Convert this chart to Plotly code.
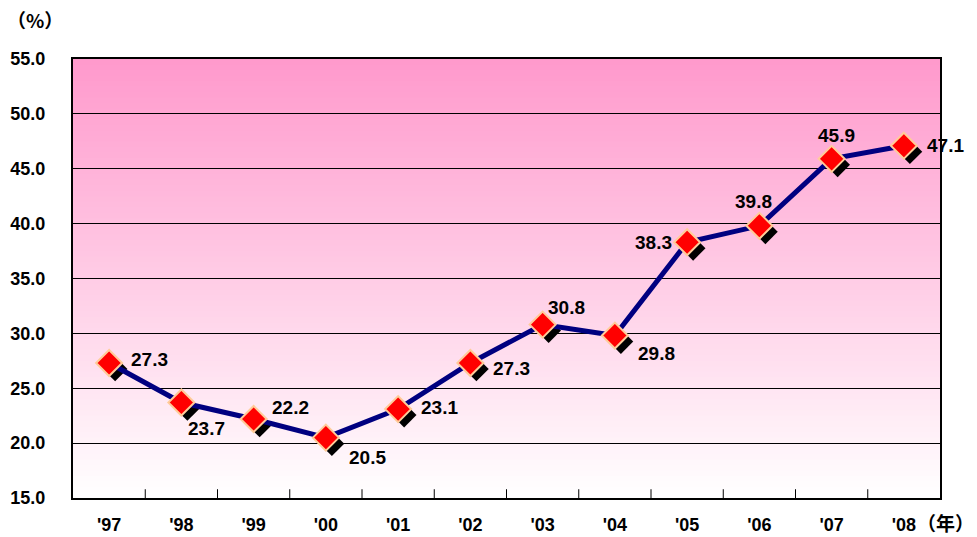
import plotly.graph_objects as go

years = ["'97", "'98", "'99", "'00", "'01", "'02", "'03", "'04", "'05", "'06", "'07", "'08"]
values = [27.3, 23.7, 22.2, 20.5, 23.1, 27.3, 30.8, 29.8, 38.3, 39.8, 45.9, 47.1]

# label placement (style): anchor, x shift px, y shift px
label_anchor = ["left", "left", "left", "left", "left", "left", "left", "left", "right", "center", "center", "left"]
label_dx = [20, 5, 16, 21, 21, 21, 3, 21, -13, -6, 5, 21]
label_dy = [4, -26, 11, -20, 2, -5, 17, -18, 0, 24, 23, 0]

y_min, y_max = 15, 55
plot_h_px = 439
plot_w_px = 867
shadow_px = 6
dx = shadow_px / (plot_w_px / len(years))
dy = shadow_px / (plot_h_px / (y_max - y_min))

fig = go.Figure()

fig.add_trace(go.Scatter(
    x=list(range(len(years))), y=values, mode="markers",
    marker=dict(symbol="diamond", size=19, color="black"),
    xaxis="x2", yaxis="y2", hoverinfo="skip", showlegend=False))

fig.add_trace(go.Scatter(
    x=list(range(len(years))), y=values, mode="lines+markers",
    line=dict(color="#000080", width=5),
    marker=dict(symbol="diamond", size=20, color="#FF0000",
                line=dict(color="#FFCC99", width=2)),
    xaxis="x3", yaxis="y3", showlegend=False, cliponaxis=False))

n = 80
top = (255, 153, 204)
bot = (255, 255, 255)
shapes = []
for i in range(n):
    t = (i + 0.5) / n
    c = tuple(round(bot[k] + (top[k] - bot[k]) * t) for k in range(3))
    shapes.append(dict(type="rect", xref="paper", yref="paper", x0=0, x1=1,
                       y0=i / n, y1=(i + 1) / n + 0.002, layer="below",
                       line=dict(width=0), fillcolor=f"rgb{c}"))

fam = "Liberation Sans, Arial"
font_lbl = dict(family=fam, size=19, color="black", weight="bold")
font_xt = dict(family=fam, size=18, color="black", weight="bold")
font_yt = dict(family=fam, size=18, color="black", weight="bold")
font_cjk = dict(family="Noto Sans CJK JP, Noto Sans CJK SC", size=19, color="black", weight="bold")

annotations = []
for i, v in enumerate(values):
    annotations.append(dict(x=i, y=v, xref="x3", yref="y3", text=f"{v:.1f}", showarrow=False,
                            xanchor=label_anchor[i], yanchor="middle",
                            xshift=label_dx[i], yshift=label_dy[i], font=font_lbl))

annotations += [
    dict(text="（%）", xref="paper", yref="paper", x=-0.078, y=1.089, xanchor="left",
         yanchor="middle", showarrow=False, font=font_cjk),
    dict(text="（年）", xref="paper", yref="paper", x=1.042, y=-0.055, xanchor="right",
         yanchor="middle", showarrow=False, font=font_cjk),
]

fig.update_layout(
    width=977, height=537,
    margin=dict(l=73, r=37, t=59, b=39),
    paper_bgcolor="white", plot_bgcolor="white",
    shapes=shapes,
    annotations=annotations,
    xaxis=dict(type="linear", range=[-0.5, len(years) - 0.5],
               tickvals=list(range(len(years))), ticktext=years,
               showgrid=False, zeroline=False, showline=True, linewidth=2, linecolor="black",
               mirror=True, ticks="", tickfont=font_xt, ticklabelstandoff=9, automargin=False),
    yaxis=dict(range=[y_min, y_max], dtick=5, tickformat=".1f",
               showgrid=True, gridcolor="black", gridwidth=1, zeroline=False,
               showline=True, linewidth=2, linecolor="black", mirror=True,
               ticks="", tickfont=font_yt, ticklabelstandoff=22, automargin=False),
    xaxis2=dict(overlaying="x", range=[-0.5 - dx, len(years) - 0.5 - dx], visible=False),
    yaxis2=dict(overlaying="y", range=[y_min + dy, y_max + dy], visible=False),
    xaxis3=dict(overlaying="x", range=[-0.5, len(years) - 0.5], visible=False),
    yaxis3=dict(overlaying="y", range=[y_min, y_max], visible=False),
)

for i in range(1, len(years)):
    fig.add_shape(type="line", xref="x", yref="paper", x0=i - 0.5, x1=i - 0.5,
                  y0=0, y1=0.02, line=dict(color="black", width=1))

fig.write_html("out.html")
